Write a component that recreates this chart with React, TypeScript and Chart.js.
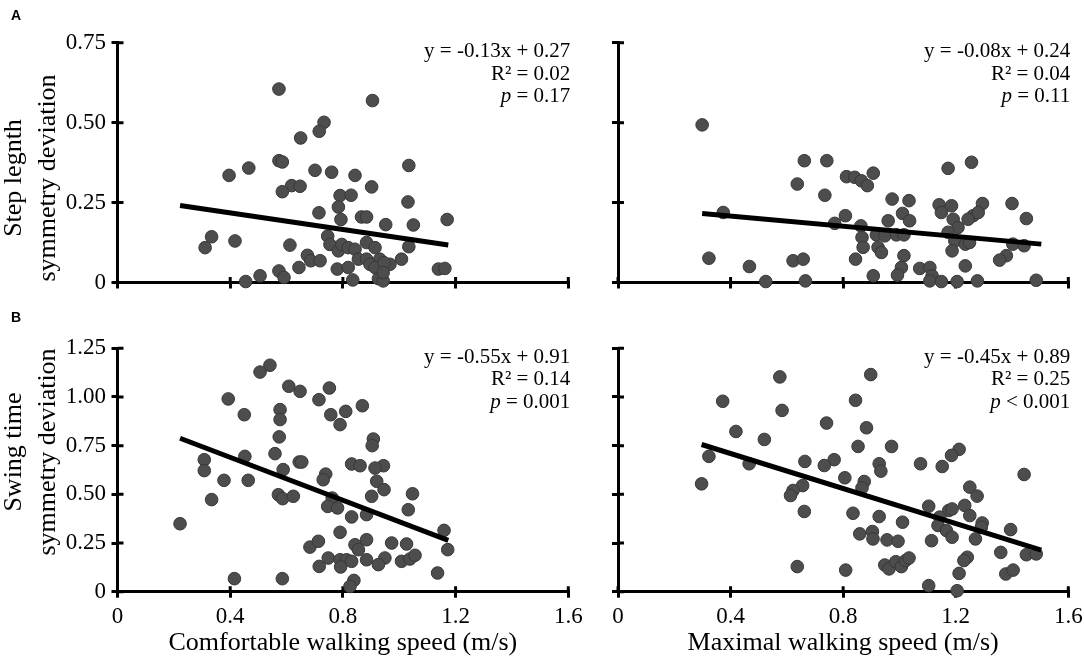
import React, { useEffect, useRef } from "react";
import { Chart, registerables } from "chart.js";

Chart.register(...registerables);

const W = 1084;
const H = 662;
const SERIF = '"Liberation Serif", "Times New Roman", serif';

// ---------- Data ----------
// Axis ticks
const xTickMax = 1.6;
const xTickStep = 0.4;
const yTopMax = 0.75;
const yBottomMax = 1.25;
const yTickStep = 0.25;

// Panel A, left: comfortable walking speed vs step length symmetry deviation
const tlX = [0.573, 0.905, 0.733, 0.716, 0.65, 0.573, 0.585, 0.466, 0.396, 1.034, 0.701, 0.76, 0.843, 0.618, 0.648, 0.585, 0.902, 0.79, 0.829, 0.784, 1.031, 0.715, 0.793, 0.866, 0.884, 0.952, 1.05, 1.17, 0.334, 0.311, 0.417, 0.612, 0.746, 0.754, 0.784, 0.796, 0.819, 0.843, 0.884, 0.914, 1.034, 0.674, 0.686, 0.719, 0.855, 0.884, 0.931, 0.967, 1.008, 0.896, 0.644, 0.78, 0.819, 0.914, 0.946, 0.573, 0.591, 0.506, 0.455, 0.835, 0.926, 0.943, 1.139, 1.162, 0.943];
const tlY = [0.605, 0.569, 0.501, 0.473, 0.452, 0.381, 0.377, 0.358, 0.335, 0.366, 0.351, 0.345, 0.335, 0.303, 0.301, 0.284, 0.299, 0.272, 0.273, 0.236, 0.252, 0.218, 0.197, 0.205, 0.205, 0.181, 0.18, 0.197, 0.143, 0.109, 0.13, 0.117, 0.145, 0.119, 0.099, 0.119, 0.109, 0.104, 0.125, 0.109, 0.112, 0.085, 0.068, 0.068, 0.073, 0.073, 0.073, 0.057, 0.073, 0.057, 0.047, 0.042, 0.047, 0.047, 0.062, 0.036, 0.016, 0.021, 0.003, 0.008, 0.012, 0.005, 0.042, 0.044, 0.031];
const tlFitX = [0.222, 1.174];
const tlFitY = [0.241, 0.117];
const tlStats = ["y = -0.13x + 0.27", "R\u00B2 = 0.02", "= 0.17"];

// Panel A, right: maximal walking speed vs step length symmetry deviation
const trX = [0.299, 0.662, 0.742, 1.256, 1.173, 0.907, 0.812, 0.841, 0.865, 0.886, 0.637, 0.735, 0.974, 1.034, 1.141, 1.185, 1.295, 1.4, 1.149, 1.262, 1.28, 0.374, 0.808, 1.011, 1.036, 1.451, 1.191, 1.244, 0.77, 0.96, 0.863, 1.208, 1.173, 0.918, 0.948, 0.989, 1.016, 0.867, 1.197, 1.234, 1.249, 1.403, 1.443, 0.871, 0.924, 0.936, 1.187, 1.016, 1.38, 1.356, 0.323, 0.622, 0.658, 0.844, 0.467, 1.007, 1.234, 1.072, 1.108, 0.907, 0.993, 1.116, 0.525, 0.666, 1.108, 1.149, 1.205, 1.277, 1.486];
const trY = [0.493, 0.381, 0.381, 0.376, 0.357, 0.342, 0.331, 0.329, 0.318, 0.303, 0.308, 0.273, 0.261, 0.256, 0.243, 0.24, 0.247, 0.247, 0.219, 0.209, 0.219, 0.219, 0.209, 0.216, 0.193, 0.2, 0.198, 0.198, 0.185, 0.193, 0.177, 0.172, 0.157, 0.149, 0.146, 0.149, 0.149, 0.141, 0.13, 0.12, 0.125, 0.12, 0.115, 0.11, 0.11, 0.094, 0.099, 0.084, 0.084, 0.07, 0.076, 0.068, 0.073, 0.073, 0.05, 0.047, 0.052, 0.044, 0.047, 0.021, 0.023, 0.021, 0.003, 0.005, 0.005, 0.003, 0.003, 0.005, 0.007];
const trFitX = [0.299, 1.504];
const trFitY = [0.216, 0.12];
const trStats = ["y = -0.08x + 0.24", "R\u00B2 = 0.04", "= 0.11"];

// Panel B, left: comfortable walking speed vs swing time symmetry deviation
const blX = [0.541, 0.506, 0.608, 0.648, 0.752, 0.393, 0.715, 0.869, 0.577, 0.81, 0.45, 0.757, 0.577, 0.79, 0.574, 0.908, 0.904, 0.559, 0.452, 0.308, 0.308, 0.645, 0.654, 0.831, 0.861, 0.944, 0.914, 0.588, 0.739, 0.73, 0.378, 0.464, 0.92, 0.946, 1.047, 0.571, 0.586, 0.624, 0.902, 0.334, 0.762, 0.746, 0.781, 1.032, 0.831, 0.884, 0.222, 0.79, 1.159, 0.683, 0.713, 0.973, 1.026, 0.843, 0.884, 0.855, 1.172, 0.748, 0.79, 0.813, 0.831, 0.884, 0.949, 0.926, 1.008, 1.038, 1.056, 0.792, 0.716, 1.136, 0.415, 0.585, 0.839, 0.825];
const blY = [1.163, 1.128, 1.055, 1.029, 1.046, 0.99, 0.986, 0.955, 0.935, 0.926, 0.909, 0.909, 0.884, 0.858, 0.795, 0.784, 0.75, 0.709, 0.695, 0.678, 0.622, 0.666, 0.666, 0.656, 0.647, 0.647, 0.635, 0.627, 0.604, 0.575, 0.572, 0.572, 0.567, 0.524, 0.503, 0.498, 0.478, 0.49, 0.49, 0.473, 0.481, 0.438, 0.43, 0.421, 0.384, 0.396, 0.349, 0.305, 0.315, 0.229, 0.259, 0.25, 0.245, 0.241, 0.267, 0.216, 0.216, 0.173, 0.164, 0.164, 0.156, 0.164, 0.173, 0.139, 0.156, 0.168, 0.187, 0.127, 0.13, 0.096, 0.067, 0.067, 0.058, 0.027];
const blFitX = [0.222, 1.174];
const blFitY = [0.788, 0.264];
const blStats = ["y = -0.55x + 0.91", "R\u00B2 = 0.14", "= 0.001"];

// Panel B, right: maximal walking speed vs swing time symmetry deviation
const brX = [0.898, 0.575, 0.372, 0.844, 0.583, 0.741, 0.883, 0.419, 0.52, 0.323, 0.853, 0.972, 1.212, 1.185, 0.466, 0.664, 0.768, 0.733, 0.928, 0.934, 1.075, 1.152, 1.443, 0.806, 0.875, 0.867, 0.297, 0.656, 0.622, 0.613, 1.25, 1.276, 1.104, 1.175, 1.187, 1.232, 1.25, 1.143, 1.294, 1.291, 0.662, 0.835, 0.928, 1.011, 1.137, 1.167, 1.187, 1.395, 1.27, 0.859, 0.904, 0.906, 0.956, 0.995, 1.114, 1.36, 1.451, 1.486, 1.241, 1.229, 0.948, 0.963, 0.987, 1.007, 1.022, 1.034, 0.637, 0.809, 1.212, 1.378, 1.404, 1.104, 1.205];
const brY = [1.115, 1.103, 0.978, 0.983, 0.931, 0.866, 0.842, 0.823, 0.782, 0.695, 0.746, 0.746, 0.731, 0.7, 0.657, 0.669, 0.678, 0.648, 0.657, 0.619, 0.657, 0.643, 0.602, 0.585, 0.566, 0.533, 0.554, 0.545, 0.52, 0.494, 0.537, 0.491, 0.439, 0.417, 0.425, 0.443, 0.391, 0.383, 0.353, 0.331, 0.412, 0.403, 0.386, 0.357, 0.34, 0.314, 0.28, 0.319, 0.271, 0.297, 0.309, 0.271, 0.266, 0.259, 0.262, 0.202, 0.19, 0.194, 0.177, 0.16, 0.137, 0.117, 0.154, 0.129, 0.16, 0.173, 0.129, 0.111, 0.094, 0.091, 0.111, 0.031, 0.005];
const brFitX = [0.297, 1.504];
const brFitY = [0.756, 0.213];
const brStats = ["y = -0.45x + 0.89", "R\u00B2 = 0.25", "< 0.001"];

const xTitleComfortable = "Comfortable walking speed (m/s)";
const xTitleMaximal = "Maximal walking speed (m/s)";
const yTitleStep = ["Step legnth", "symmetry deviation"];
const yTitleSwing = ["Swing time", "symmetry deviation"];

// ---------- Layout ----------
const YW = 70;
const LEFT_A = 117.5;
const RIGHT_A = 568.3;
const LEFT_B = 618;
const RIGHT_B = 1068.3;
const TOP_1 = 42.7;
const BOTTOM_1 = 282.5;
const TOP_2 = 348.3;
const BOTTOM_2 = 591.7;

type PanelCfg = {
  xs: number[];
  ys: number[];
  fitX: number[];
  fitY: number[];
  stats: string[];
  yMax: number;
  left: number;
  right: number;
  top: number;
  bottom: number;
  showXLabels: boolean;
  showYLabels: boolean;
  xTitle?: string;
  yTitle?: string[];
  yTitleCenter?: number;
  letter?: string;
  letterY?: number;
};

const panels: PanelCfg[] = [
  { xs: tlX, ys: tlY, fitX: tlFitX, fitY: tlFitY, stats: tlStats, yMax: yTopMax, left: LEFT_A, right: RIGHT_A, top: TOP_1, bottom: BOTTOM_1, showXLabels: false, showYLabels: true, yTitle: yTitleStep, yTitleCenter: 178, letter: "A", letterY: 20 },
  { xs: trX, ys: trY, fitX: trFitX, fitY: trFitY, stats: trStats, yMax: yTopMax, left: LEFT_B, right: RIGHT_B, top: TOP_1, bottom: BOTTOM_1, showXLabels: false, showYLabels: false },
  { xs: blX, ys: blY, fitX: blFitX, fitY: blFitY, stats: blStats, yMax: yBottomMax, left: LEFT_A, right: RIGHT_A, top: TOP_2, bottom: BOTTOM_2, showXLabels: true, showYLabels: true, xTitle: xTitleComfortable, yTitle: yTitleSwing, yTitleCenter: 452, letter: "B", letterY: 322 },
  { xs: brX, ys: brY, fitX: brFitX, fitY: brFitY, stats: brStats, yMax: yBottomMax, left: LEFT_B, right: RIGHT_B, top: TOP_2, bottom: BOTTOM_2, showXLabels: true, showYLabels: false, xTitle: xTitleMaximal },
];

const crossTicks = {
  id: "crossTicks",
  beforeDatasetsDraw(chart: any) {
    const { ctx, chartArea: ca } = chart;
    const xs = chart.scales.x;
    const ys = chart.scales.y;
    ctx.save();
    ctx.strokeStyle = "#000";
    ctx.lineWidth = 3;
    ctx.beginPath();
    xs.ticks.forEach((t: any) => {
      const px = xs.getPixelForValue(t.value);
      ctx.moveTo(px, ca.bottom);
      ctx.lineTo(px, ca.bottom - 5.5);
    });
    ys.ticks.forEach((t: any) => {
      const py = ys.getPixelForValue(t.value);
      ctx.moveTo(ca.left, py);
      ctx.lineTo(ca.left + 6, py);
    });
    ctx.stroke();
    ctx.restore();
  },
};

const panelText = {
  id: "panelText",
  afterDraw(chart: any, _args: any, opts: any) {
    const { ctx, chartArea: ca } = chart;
    ctx.save();
    ctx.fillStyle = "#000";
    const fs = 21;
    const rx = ca.right + 2;
    ctx.textAlign = "right";
    ctx.textBaseline = "alphabetic";
    ctx.font = `${fs}px ${SERIF}`;
    ctx.fillText(opts.stats[0], rx, ca.top + 14.5);
    ctx.fillText(opts.stats[1], rx, ca.top + 37);
    const rest = " " + opts.stats[2];
    const w = ctx.measureText(rest).width;
    ctx.fillText(rest, rx, ca.top + 59.5);
    ctx.font = `italic ${fs}px ${SERIF}`;
    ctx.fillText("p", rx - w, ca.top + 59.5);

    if (opts.yTitle) {
      ctx.font = `26px ${SERIF}`;
      ctx.textAlign = "center";
      const xsPos = [20.7, 55];
      opts.yTitle.forEach((line: string, i: number) => {
        ctx.save();
        ctx.translate(xsPos[i], opts.yTitleCenter);
        ctx.rotate(-Math.PI / 2);
        ctx.fillText(line, 0, 0);
        ctx.restore();
      });
    }
    if (opts.letter) {
      ctx.font = `bold 14px "Liberation Sans", Arial, sans-serif`;
      ctx.textAlign = "left";
      ctx.fillText(opts.letter, 11, opts.letterY);
    }
    ctx.restore();
  },
};

function makeConfig(p: PanelCfg): any {
  const xH = p.xTitle ? H - p.bottom : 20;
  return {
    type: "scatter",
    data: {
      datasets: [
        {
          type: "line",
          data: p.fitX.map((x, i) => ({ x, y: p.fitY[i] })),
          borderColor: "#000",
          borderWidth: 5,
          pointRadius: 0,
          fill: false,
          order: 0,
          clip: false,
        },
        {
          type: "scatter",
          data: p.xs.map((x, i) => ({ x, y: p.ys[i] })),
          backgroundColor: "#4d4d4d",
          borderColor: "#383838",
          borderWidth: 1,
          pointRadius: 6.3,
          order: 1,
          clip: false,
        },
      ],
    },
    options: {
      responsive: false,
      maintainAspectRatio: false,
      animation: false,
      events: [],
      layout: {
        padding: {
          left: p.left - YW,
          right: W - p.right,
          top: p.top,
          bottom: H - p.bottom - xH,
        },
      },
      plugins: {
        legend: { display: false },
        tooltip: { enabled: false },
        panelText: {
          stats: p.stats,
          yTitle: p.yTitle,
          yTitleCenter: p.yTitleCenter,
          letter: p.letter,
          letterY: p.letterY,
        },
      },
      scales: {
        x: {
          type: "linear",
          position: "bottom",
          min: 0,
          max: xTickMax,
          ticks: {
            stepSize: xTickStep,
            display: p.showXLabels,
            autoSkip: false,
            maxRotation: 0,
            padding: 5,
            color: "#000",
            font: { family: SERIF, size: 23 },
            callback: (v: any) => (Number(v) === 0 ? "0" : Number(v).toFixed(1)),
          },
          grid: {
            display: true,
            drawOnChartArea: false,
            drawTicks: true,
            tickLength: 6,
            color: "#000",
            lineWidth: 3,
          },
          border: { display: true, color: "#000", width: 3 },
          title: {
            display: !!p.xTitle,
            text: p.xTitle || "",
            color: "#000",
            font: { family: SERIF, size: 26 },
            padding: { top: 0, bottom: 3 },
          },
          afterFit: (s: any) => {
            s.height = xH;
            s.paddingLeft = 0;
            s.paddingRight = 0;
          },
        },
        y: {
          type: "linear",
          position: "left",
          min: 0,
          max: p.yMax,
          ticks: {
            stepSize: yTickStep,
            display: p.showYLabels,
            autoSkip: false,
            padding: 5.5,
            color: "#000",
            font: { family: SERIF, size: 23 },
            callback: (v: any) => (Number(v) === 0 ? "0" : Number(v).toFixed(2)),
          },
          grid: {
            display: true,
            drawOnChartArea: false,
            drawTicks: true,
            tickLength: 6,
            color: "#000",
            lineWidth: 3,
          },
          border: { display: true, color: "#000", width: 3 },
          afterFit: (s: any) => {
            s.width = YW;
            s.paddingTop = 0;
            s.paddingBottom = 0;
          },
        },
      },
    },
    plugins: [crossTicks, panelText],
  };
}

function Panel({ cfg }: { cfg: PanelCfg }) {
  const ref = useRef<HTMLCanvasElement>(null);
  useEffect(() => {
    if (!ref.current) return;
    const chart = new Chart(ref.current, makeConfig(cfg));
    return () => chart.destroy();
  }, [cfg]);
  return (
    <canvas
      ref={ref}
      width={W}
      height={H}
      style={{ position: "absolute", left: 0, top: 0, width: W, height: H }}
    />
  );
}

export default function App() {
  return (
    <div
      style={{
        position: "fixed",
        left: 0,
        top: 0,
        width: W,
        height: H,
        background: "#fff",
        overflow: "hidden",
      }}
    >
      {panels.map((p, i) => (
        <Panel key={i} cfg={p} />
      ))}
    </div>
  );
}
